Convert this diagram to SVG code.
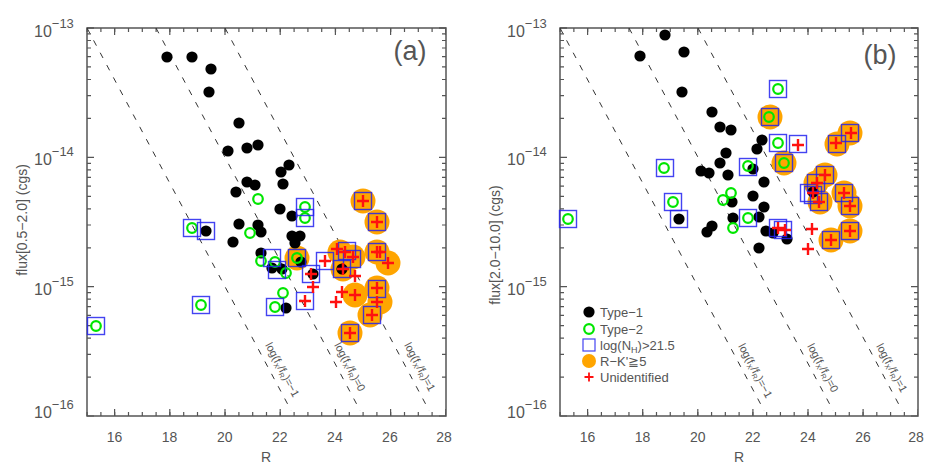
<svg xmlns="http://www.w3.org/2000/svg" xmlns:xlink="http://www.w3.org/1999/xlink" width="945" height="472" viewBox="0 0 945 472">
<style>
.ax{fill:none;stroke:#555;stroke-width:1.5}
.t{font-family:"Liberation Sans",Arial,sans-serif;fill:#555}
.tk{font-size:14px}
.yt{font-size:16px}
.ex{font-size:13px}
.dl{fill:none;stroke:#333;stroke-width:1;stroke-dasharray:6 8}
.ll{font-size:11px}
</style>
<defs>
<circle id="dot" r="5.6" fill="#000"/>
<circle id="gc" r="4.8" fill="none" stroke="#00e600" stroke-width="2.2"/>
<rect id="sq" x="-8.5" y="-8.5" width="17" height="17" fill="none" stroke="#2222ee" stroke-opacity="0.85" stroke-width="1.4"/>
<circle id="or" r="12.5" fill="#ffa500"/>
<path id="cr" d="M-6,0H6M0,-6V6" stroke="#ff1010" stroke-width="2.4"/>
<path id="dec" d="M0,0h7M0,-38.9h4M0,-61.7h4M0,-77.8h4M0,-90.4h4M0,-100.6h4M0,-109.3h4M0,-116.8h4M0,-123.4h4" fill="none" stroke="#555" stroke-width="1.2"/>
<clipPath id="ca"><rect x="87" y="28" width="359" height="383"/></clipPath>
<clipPath id="cb"><rect x="560" y="28" width="358" height="383"/></clipPath>
</defs>

<g id="panel-a">
<rect x="87" y="28" width="359" height="388" class="ax"/>
<g stroke="#555" fill="none">
<line x1="86.5" y1="414" x2="446" y2="414" stroke-width="4" stroke-dasharray="1.2 12.6"/>
<line x1="114" y1="412.5" x2="446" y2="412.5" stroke-width="7" stroke-dasharray="1.2 54"/>
<line x1="86.5" y1="30" x2="446" y2="30" stroke-width="4" stroke-dasharray="1.2 12.6"/>
<line x1="114" y1="31.5" x2="446" y2="31.5" stroke-width="7" stroke-dasharray="1.2 54"/>
</g>
<use href="#dec" x="87" y="416"/><use href="#dec" x="87" y="286.7"/><use href="#dec" x="87" y="157.3"/>
<path d="M87,28h7M446,28h-7" class="ax"/>
<use href="#dec" transform="translate(446,416) scale(-1,1)"/><use href="#dec" transform="translate(446,286.7) scale(-1,1)"/><use href="#dec" transform="translate(446,157.3) scale(-1,1)"/>
<g class="t tk" text-anchor="middle">
<text x="114.6" y="442">16</text><text x="169.6" y="442">18</text><text x="224.7" y="442">20</text><text x="279.8" y="442">22</text><text x="334.9" y="442">24</text><text x="389.9" y="442">26</text><text x="444" y="442">28</text>
<text x="266" y="462">R</text>
</g>
<g class="t">
<text x="34" y="37" class="yt">10<tspan class="ex" dy="-9">−13</tspan></text>
<text x="34" y="165" class="yt">10<tspan class="ex" dy="-9">−14</tspan></text>
<text x="34" y="295" class="yt">10<tspan class="ex" dy="-9">−15</tspan></text>
<text x="34" y="418" class="yt">10<tspan class="ex" dy="-9">−16</tspan></text>
<text transform="translate(27,220) rotate(-90)" text-anchor="middle" class="tk">flux[0.5−2.0] (cgs)</text>
<text x="410" y="60" text-anchor="middle" font-size="27" font-weight="300">(a)</text>
</g>
<g clip-path="url(#ca)">
<line x1="87" y1="28" x2="294" y2="416" class="dl"/>
<line x1="156" y1="28" x2="363" y2="416" class="dl"/>
<line x1="225" y1="28" x2="432" y2="416" class="dl"/>
</g>
<g class="t ll">
<text transform="translate(265,345) rotate(62)">log(f<tspan font-size="7" dy="2">X</tspan><tspan dy="-2">/f</tspan><tspan font-size="7" dy="2">R</tspan><tspan dy="-2">)=−1</tspan></text>
<text transform="translate(334,345) rotate(62)">log(f<tspan font-size="7" dy="2">X</tspan><tspan dy="-2">/f</tspan><tspan font-size="7" dy="2">R</tspan><tspan dy="-2">)=0</tspan></text>
<text transform="translate(404,345) rotate(62)">log(f<tspan font-size="7" dy="2">X</tspan><tspan dy="-2">/f</tspan><tspan font-size="7" dy="2">R</tspan><tspan dy="-2">)=1</tspan></text>
</g>
<g id="a-orange">
<use href="#or" x="363" y="201"/><use href="#or" x="377" y="222"/><use href="#or" x="377" y="252"/><use href="#or" x="388" y="263"/><use href="#or" x="340" y="252"/><use href="#or" x="353" y="257"/><use href="#or" x="343" y="269"/><use href="#or" x="355" y="295"/><use href="#or" x="377" y="288"/><use href="#or" x="380" y="302"/><use href="#or" x="370" y="315"/><use href="#or" x="350" y="333"/><use href="#or" x="297" y="258"/>
</g>
<g id="a-type1">
<use href="#dot" x="167" y="57"/><use href="#dot" x="192" y="57"/><use href="#dot" x="211" y="69"/><use href="#dot" x="209" y="92"/><use href="#dot" x="239" y="123"/><use href="#dot" x="228" y="151"/><use href="#dot" x="247" y="148"/><use href="#dot" x="258" y="145"/><use href="#dot" x="289" y="165"/><use href="#dot" x="281" y="172"/><use href="#dot" x="283" y="184"/><use href="#dot" x="247" y="182"/><use href="#dot" x="255" y="185"/><use href="#dot" x="236" y="192"/><use href="#dot" x="280" y="209"/><use href="#dot" x="292" y="216"/><use href="#dot" x="239" y="224"/><use href="#dot" x="258" y="225"/><use href="#dot" x="261" y="232"/><use href="#dot" x="233" y="242"/><use href="#dot" x="292" y="236"/><use href="#dot" x="300" y="236"/><use href="#dot" x="295" y="243"/><use href="#dot" x="261" y="253"/><use href="#dot" x="206" y="231"/><use href="#dot" x="272" y="268"/><use href="#dot" x="282" y="269"/><use href="#dot" x="286" y="308"/><use href="#dot" x="301" y="262"/><use href="#dot" x="342" y="269"/><use href="#dot" x="313" y="274"/>
</g>
<g id="a-type2">
<use href="#gc" x="258" y="199"/><use href="#gc" x="305" y="207"/><use href="#gc" x="305" y="218"/><use href="#gc" x="192" y="228"/><use href="#gc" x="250" y="233"/><use href="#gc" x="297" y="258"/><use href="#gc" x="261" y="261"/><use href="#gc" x="275" y="262"/><use href="#gc" x="286" y="273"/><use href="#gc" x="283" y="293"/><use href="#gc" x="275" y="307"/><use href="#gc" x="201" y="305"/><use href="#gc" x="96" y="326"/>
</g>
<g id="a-nh">
<use href="#sq" x="192" y="228"/><use href="#sq" x="206" y="231"/><use href="#sq" x="305" y="207"/><use href="#sq" x="305" y="218"/><use href="#sq" x="297" y="258"/><use href="#sq" x="272" y="258"/><use href="#sq" x="277" y="270"/><use href="#sq" x="325" y="261"/><use href="#sq" x="311" y="274"/><use href="#sq" x="305" y="301"/><use href="#sq" x="275" y="307"/><use href="#sq" x="201" y="305"/><use href="#sq" x="96" y="326"/><use href="#sq" x="347" y="251"/><use href="#sq" x="352" y="259"/><use href="#sq" x="342" y="269"/><use href="#sq" x="363" y="201"/><use href="#sq" x="377" y="222"/><use href="#sq" x="377" y="252"/><use href="#sq" x="377" y="289"/><use href="#sq" x="372" y="315"/><use href="#sq" x="350" y="333"/>
</g>
<g id="a-unid">
<use href="#cr" x="363" y="201"/><use href="#cr" x="377" y="222"/><use href="#cr" x="377" y="252"/><use href="#cr" x="380" y="252"/><use href="#cr" x="388" y="263"/><use href="#cr" x="345" y="252"/><use href="#cr" x="353" y="257"/><use href="#cr" x="343" y="269"/><use href="#cr" x="355" y="295"/><use href="#cr" x="377" y="288"/><use href="#cr" x="377" y="302"/><use href="#cr" x="372" y="315"/><use href="#cr" x="350" y="333"/><use href="#cr" x="325" y="261"/><use href="#cr" x="311" y="274"/><use href="#cr" x="313" y="287"/><use href="#cr" x="305" y="301"/><use href="#cr" x="337" y="249"/><use href="#cr" x="355" y="276"/><use href="#cr" x="342" y="292"/><use href="#cr" x="336" y="302"/>
</g>
</g>

<g id="panel-b">
<rect x="560" y="28" width="358" height="388" class="ax"/>
<g stroke="#555" fill="none">
<line x1="559.5" y1="414" x2="918" y2="414" stroke-width="4" stroke-dasharray="1.2 12.57"/>
<line x1="587" y1="412.5" x2="918" y2="412.5" stroke-width="7" stroke-dasharray="1.2 53.9"/>
<line x1="559.5" y1="30" x2="918" y2="30" stroke-width="4" stroke-dasharray="1.2 12.57"/>
<line x1="587" y1="31.5" x2="918" y2="31.5" stroke-width="7" stroke-dasharray="1.2 53.9"/>
</g>
<use href="#dec" x="560" y="416"/><use href="#dec" x="560" y="286.7"/><use href="#dec" x="560" y="157.3"/>
<path d="M560,28h7M918,28h-7" class="ax"/>
<use href="#dec" transform="translate(918,416) scale(-1,1)"/><use href="#dec" transform="translate(918,286.7) scale(-1,1)"/><use href="#dec" transform="translate(918,157.3) scale(-1,1)"/>
<g class="t tk" text-anchor="middle">
<text x="587.5" y="442">16</text><text x="642.6" y="442">18</text><text x="697.7" y="442">20</text><text x="752.8" y="442">22</text><text x="807.9" y="442">24</text><text x="863" y="442">26</text><text x="916" y="442">28</text>
<text x="739" y="462">R</text>
</g>
<g class="t">
<text x="507" y="37" class="yt">10<tspan class="ex" dy="-9">−13</tspan></text>
<text x="507" y="165" class="yt">10<tspan class="ex" dy="-9">−14</tspan></text>
<text x="507" y="295" class="yt">10<tspan class="ex" dy="-9">−15</tspan></text>
<text x="507" y="418" class="yt">10<tspan class="ex" dy="-9">−16</tspan></text>
<text transform="translate(500,245) rotate(-90)" text-anchor="middle" class="tk">flux[2.0−10.0] (cgs)</text>
<text x="880" y="64" text-anchor="middle" font-size="27" font-weight="300">(b)</text>
</g>
<g clip-path="url(#cb)">
<line x1="560" y1="28" x2="767" y2="416" class="dl"/>
<line x1="629" y1="28" x2="836" y2="416" class="dl"/>
<line x1="698" y1="28" x2="905" y2="416" class="dl"/>
</g>
<g class="t ll">
<text transform="translate(738,346) rotate(62)">log(f<tspan font-size="7" dy="2">X</tspan><tspan dy="-2">/f</tspan><tspan font-size="7" dy="2">R</tspan><tspan dy="-2">)=−1</tspan></text>
<text transform="translate(807,346) rotate(62)">log(f<tspan font-size="7" dy="2">X</tspan><tspan dy="-2">/f</tspan><tspan font-size="7" dy="2">R</tspan><tspan dy="-2">)=0</tspan></text>
<text transform="translate(876,346) rotate(62)">log(f<tspan font-size="7" dy="2">X</tspan><tspan dy="-2">/f</tspan><tspan font-size="7" dy="2">R</tspan><tspan dy="-2">)=1</tspan></text>
</g>
<g id="b-orange">
<use href="#or" x="770" y="117"/><use href="#or" x="784" y="163"/><use href="#or" x="837" y="144"/><use href="#or" x="850" y="133"/><use href="#or" x="825" y="175"/><use href="#or" x="816" y="183"/><use href="#or" x="820" y="202"/><use href="#or" x="844" y="193"/><use href="#or" x="850" y="206"/><use href="#or" x="850" y="231"/><use href="#or" x="831" y="240"/>
</g>
<g id="b-type1">
<use href="#dot" x="665" y="35"/><use href="#dot" x="640" y="56"/><use href="#dot" x="684" y="52"/><use href="#dot" x="682" y="92"/><use href="#dot" x="712" y="112"/><use href="#dot" x="720" y="127"/><use href="#dot" x="731" y="130"/><use href="#dot" x="762" y="140"/><use href="#dot" x="757" y="149"/><use href="#dot" x="726" y="153"/><use href="#dot" x="720" y="163"/><use href="#dot" x="701" y="171"/><use href="#dot" x="709" y="173"/><use href="#dot" x="728" y="175"/><use href="#dot" x="753" y="169"/><use href="#dot" x="764" y="182"/><use href="#dot" x="753" y="196"/><use href="#dot" x="732" y="202"/><use href="#dot" x="764" y="207"/><use href="#dot" x="759" y="217"/><use href="#dot" x="733" y="218"/><use href="#dot" x="712" y="226"/><use href="#dot" x="707" y="232"/><use href="#dot" x="766" y="231"/><use href="#dot" x="773" y="233"/><use href="#dot" x="787" y="239"/><use href="#dot" x="759" y="248"/><use href="#dot" x="679" y="219"/><use href="#dot" x="813" y="192"/>
</g>
<g id="b-type2">
<use href="#gc" x="778" y="89"/><use href="#gc" x="769" y="117"/><use href="#gc" x="778" y="143"/><use href="#gc" x="784" y="163"/><use href="#gc" x="664" y="168"/><use href="#gc" x="748" y="166"/><use href="#gc" x="731" y="193"/><use href="#gc" x="723" y="200"/><use href="#gc" x="673" y="202"/><use href="#gc" x="748" y="218"/><use href="#gc" x="733" y="228"/><use href="#gc" x="568" y="219"/>
</g>
<g id="b-nh">
<use href="#sq" x="778" y="89"/><use href="#sq" x="770" y="117"/><use href="#sq" x="778" y="143"/><use href="#sq" x="798" y="144"/><use href="#sq" x="784" y="163"/><use href="#sq" x="665" y="168"/><use href="#sq" x="748" y="167"/><use href="#sq" x="673" y="202"/><use href="#sq" x="679" y="219"/><use href="#sq" x="748" y="218"/><use href="#sq" x="568" y="219"/><use href="#sq" x="778" y="228"/><use href="#sq" x="783" y="230"/><use href="#sq" x="837" y="144"/><use href="#sq" x="850" y="133"/><use href="#sq" x="825" y="175"/><use href="#sq" x="816" y="183"/><use href="#sq" x="813" y="195"/><use href="#sq" x="819" y="202"/><use href="#sq" x="844" y="193"/><use href="#sq" x="850" y="206"/><use href="#sq" x="850" y="231"/><use href="#sq" x="831" y="240"/><use href="#sq" x="809" y="193"/>
</g>
<g id="b-unid">
<use href="#cr" x="798" y="145"/><use href="#cr" x="836" y="143"/><use href="#cr" x="851" y="133"/><use href="#cr" x="825" y="175"/><use href="#cr" x="817" y="183"/><use href="#cr" x="819" y="202"/><use href="#cr" x="813" y="193"/><use href="#cr" x="844" y="193"/><use href="#cr" x="850" y="206"/><use href="#cr" x="850" y="231"/><use href="#cr" x="831" y="240"/><use href="#cr" x="778" y="228"/><use href="#cr" x="785" y="230"/><use href="#cr" x="812" y="229"/><use href="#cr" x="808" y="249"/>
</g>
<g id="legend" class="t" font-size="13">
<use href="#dot" x="589" y="312"/><text x="600" y="317">Type−1</text>
<use href="#gc" x="589" y="329"/><text x="600" y="334">Type−2</text>
<rect x="583" y="339" width="12" height="12" fill="none" stroke="#2222ee" stroke-opacity="0.85" stroke-width="1.2"/><text x="600" y="350">log(N<tspan font-size="9" dy="3">H</tspan><tspan dy="-3">)&gt;21.5</tspan></text>
<circle cx="589" cy="361" r="7" fill="#ffa500"/><text x="600" y="366">R−K'≧5</text>
<use href="#cr" transform="translate(589,377) scale(0.75)"/><text x="600" y="382">Unidentified</text>
</g>
</g>
</svg>
